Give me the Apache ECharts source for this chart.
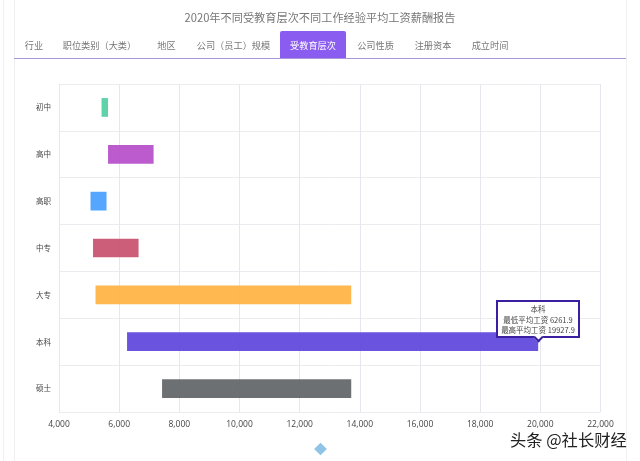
<!DOCTYPE html>
<html>
<head>
<meta charset="UTF-8">
<title>受教育层次</title>
<script src="https://cdn.jsdelivr.net/npm/echarts@6/dist/echarts.min.js"></script>
<style type="text/css">
body{margin:0;padding:0;background:#fff;font-family:"Noto Sans CJK SC",sans-serif;}
#page{position:relative;width:640px;height:461px;overflow:hidden;}
#main{position:absolute;left:0;top:0;width:640px;height:461px;}
.edge{position:absolute;top:0;width:1px;height:461px;background:#f0f0f0;}
.tabs{position:absolute;left:14px;top:31px;width:612px;height:27px;border-bottom:1px solid #a796d8;font-size:9.2px;color:#777;}
.tabs span{position:absolute;top:0;height:27px;line-height:28px;text-align:center;white-space:nowrap;}
.tabs span.on{background:#8a5cf0;color:#fff;border-radius:2px 2px 0 0;}
.mark{position:absolute;left:510px;top:427px;font-size:16.3px;line-height:24px;color:#222;text-shadow:0 0 2px #fff,0 0 2px #fff;}
</style>
</head>
<body>
<div id="page">
	<div class="edge" style="left:3px"></div>
	<div class="edge" style="left:14px"></div>
	<div class="edge" style="left:626px"></div>
	<div id="main"></div>
	<div class="tabs" id="tabs"></div>
	<div class="mark">头条 @社长财经</div>
</div>
<script type="text/javascript">
var titleText = '2020年不同受教育层次不同工作经验平均工资薪酬报告';
var tabNames = ['行业', '职位类别（大类）', '地区', '公司（员工）规模', '受教育层次', '公司性质', '注册资本', '成立时间'];
var tabCenter = [20, 85.5, 152.5, 219.5, 299, 361.5, 419, 476];
var tabWidth = [40, 80, 30, 80, 66.5, 44, 44, 44];
var activeTab = 4;

var categories = ['初中', '高中', '高职', '中专', '大专', '本科', '硕士'];
var minSalary = [5414, 5630, 5048, 5131, 5214, 6261.9, 7426];
var maxSalary = [5630, 7144, 5580, 6645, 13714, 19927.9, 13714];
var barColors = ['#52cfa3', '#b64fca', '#479fff', '#c95270', '#ffb343', '#5f46dc', '#626568'];
var xTicks = [4000, 22000, 2000];
var tipIndex = 5;

var tabsEl = document.getElementById('tabs');
tabNames.forEach(function (name, i) {
	var s = document.createElement('span');
	s.textContent = name;
	s.style.left = (tabCenter[i] - tabWidth[i] / 2) + 'px';
	s.style.width = tabWidth[i] + 'px';
	if (i === activeTab) s.className = 'on';
	tabsEl.appendChild(s);
});

var myChart = echarts.init(document.getElementById('main'));
myChart.setOption({
	animation: false,
	title: {
		text: titleText,
		left: 'center',
		top: 7,
		textStyle: {color: '#777', fontSize: 11.2, fontWeight: 'normal', fontFamily: 'Noto Sans CJK SC'}
	},
	grid: {left: 59, right: 39.5, top: 84, bottom: 49},
	tooltip: {
		trigger: 'item',
		alwaysShowContent: true,
		transitionDuration: 0,
		backgroundColor: '#fff',
		borderColor: '#3a1fa0',
		borderWidth: 2,
		padding: [2, 2, 0, 2],
		textStyle: {color: '#444', fontSize: 7.5, lineHeight: 10.7, fontFamily: 'Noto Sans CJK SC'},
		extraCssText: 'box-shadow:none;border-radius:0;text-align:center;overflow:visible;width:84px;height:38px;box-sizing:border-box;white-space:nowrap;',
		position: function (pt, params, dom, rect, size) {
			var p = myChart.convertToPixel({xAxisIndex: 0, yAxisIndex: 0}, [maxSalary[tipIndex], categories[tipIndex]]);
			return [p[0] - 42, p[1] - 42];
		},
		formatter: function (p) {
			var i = p.dataIndex;
			return categories[i] + '<br>最低平均工资 ' + minSalary[i] + '<br>最高平均工资 ' + maxSalary[i] +
				'<div style="position:absolute;left:36.5px;bottom:-4.5px;width:5px;height:5px;background:#fff;border-right:2px solid #3a1fa0;border-bottom:2px solid #3a1fa0;transform:rotate(45deg)"></div>';
		}
	},
	xAxis: {
		type: 'value',
		min: xTicks[0],
		max: xTicks[1],
		interval: xTicks[2],
		axisLine: {show: false},
		axisTick: {show: false},
		axisLabel: {color: '#444', fontSize: 8.5, margin: 8, fontFamily: 'Open Sans'},
		splitLine: {show: true, lineStyle: {color: '#e6e6ec'}}
	},
	yAxis: {
		type: 'category',
		inverse: true,
		data: categories,
		axisLine: {show: true, lineStyle: {color: '#e6e6ec'}},
		axisTick: {show: false},
		axisLabel: {color: '#444', fontSize: 7.5, margin: 8, fontFamily: 'Noto Sans CJK SC'},
		splitLine: {show: true, lineStyle: {color: '#ececf0'}}
	},
	series: [
		{
			type: 'bar',
			stack: 'range',
			barWidth: '40%',
			silent: true,
			itemStyle: {color: 'transparent'},
			data: minSalary
		},
		{
			type: 'bar',
			stack: 'range',
			barWidth: '40%',
			data: maxSalary.map(function (v, i) {
				return {value: v - minSalary[i], itemStyle: {color: barColors[i], opacity: 0.93}};
			})
		}
	],
	graphic: [{
		type: 'rect',
		x: 320.5,
		y: 449,
		rotation: Math.PI / 4,
		shape: {x: -4.5, y: -4.5, width: 9, height: 9},
		style: {fill: '#8fc4e6'}
	}]
});
myChart.dispatchAction({type: 'showTip', seriesIndex: 1, dataIndex: tipIndex});
</script>
</body>
</html>
